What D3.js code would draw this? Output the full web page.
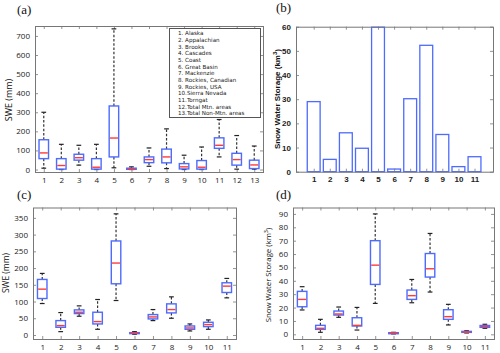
<!DOCTYPE html>
<html><head><meta charset="utf-8">
<script src="https://cdn.jsdelivr.net/npm/d3@7"></script>
<style>body{margin:0;background:#fff}svg{display:block}</style>
</head><body>
<svg id="c" width="500" height="353"></svg>
<script>
// ---------- DATA ----------
const regionsA = [1,2,3,4,5,6,7,8,9,10,11,12,13];
const regionsB = [1,2,3,4,5,6,7,8,9,10,11];
const legendNames = ["1. Alaska","2. Appalachian","3. Brooks","4. Cascades","5. Coast","6. Great Basin","7. Mackenzie","8. Rockies, Canadian","9. Rockies, USA","10.Sierra Nevada","11.Torngat","12.Total Mtn. areas","13.Total Non-Mtn. areas"];
// box stats: [low whisker, q1, median, q3, high whisker]
const sweA_low  = [7,0,23,0,9,0,17,5,0,0,66,2,2];
const sweA_q1   = [57,2,49,2,66,1,36,35,3,2,111,23,5];
const sweA_med  = [87,21,62,12,165,4,52,66,14,12,127,52,24];
const sweA_q3   = [156,57,80,57,333,7,66,107,31,47,166,85,49];
const sweA_high = [300,132,127,132,737,14,113,213,75,118,262,178,123];
const storageB = [29.0,5.1,16.1,9.7,59.8,1.1,30.2,52.3,15.4,2.1,6.2];
const sweC_low  = [94,10,56,17,103,2,43,50,12,17,111];
const sweC_q1   = [109,23,64,33,153,4,48,66,17,25,127];
const sweC_med  = [137,28,68,40,215,5,54,76,21,31,146];
const sweC_q3   = [166,43,75,68,281,7,61,93,27,38,156];
const sweC_high = [184,67,87,106,362,10,76,114,33,45,169];
const stoD_low  = [18.2,1.5,12.7,3.2,23.1,0.3,23.6,31.6,7.0,1.0,4.5];
const stoD_q1   = [20.6,3.7,14.4,6.2,37.3,0.5,26.1,42.8,11.2,1.5,5.2];
const stoD_med  = [26.1,4.5,15.2,6.7,51.7,0.8,28.9,49.0,13.2,1.7,6.0];
const stoD_q3   = [32.1,6.7,17.4,12.4,70.0,1.2,33.1,60.4,18.4,2.2,6.6];
const stoD_high = [35.6,11.2,20.4,20.1,90.0,1.5,41.0,75.4,22.4,2.7,7.5];
const ticksA = [0,100,200,300,400,500,600,700];
const ticksB = [0,10,20,30,40,50,60];
const ticksC = [0,50,100,150,200,250,300,350];
const ticksD = [0,10,20,30,40,50,60,70,80,90];

const svg = d3.select("#c");
const BLUE = "#4d6bff", RED = "#ff3a3a", FRAME = "#777";

function frame(g, x, y, xt, yt, opt) {
  const [x0,x1] = x.range(), [y0,y1] = y.range();
  const font = opt.font, fs = opt.fs, fw = opt.fw || "normal";
  const ax = g.append("g").attr("transform",`translate(${x0},0)`)
    .call(d3.axisLeft(y).tickValues(yt).tickSize(-3).tickPadding(opt.ypad||4));
  const ar = g.append("g").attr("transform",`translate(${x1},0)`)
    .call(d3.axisRight(y).tickValues(yt).tickSize(-3).tickFormat(""));
  const ab = g.append("g").attr("transform",`translate(0,${y0})`)
    .call(d3.axisBottom(x).tickValues(xt).tickSize(-3).tickPadding(opt.xpad||5));
  const at = g.append("g").attr("transform",`translate(0,${y1})`)
    .call(d3.axisTop(x).tickValues(xt).tickSize(-3).tickFormat(""));
  [ax,ar,ab,at].forEach(a=>{
    a.select(".domain").remove();
    a.selectAll("line").attr("stroke",FRAME).attr("stroke-width",0.8);
    a.selectAll("text").attr("font-family",font).attr("font-size",fs).attr("font-weight",fw).attr("fill","#222");
  });
  g.append("rect").attr("x",x0+0.5).attr("y",y1+0.5).attr("width",x1-x0).attr("height",y0-y1)
    .attr("fill","none").attr("stroke",FRAME).attr("stroke-width",1);
}

function boxes(g, x, y, cats, lo, q1, med, q3, hi, bw) {
  cats.forEach((c,i)=>{
    const cx = x(c);
    const wl = g.append("g");
    wl.append("line").attr("x1",cx).attr("x2",cx).attr("y1",y(q3[i])).attr("y2",y(hi[i]))
      .attr("stroke","#333").attr("stroke-width",1.2).attr("stroke-dasharray","2.5,1.8");
    wl.append("line").attr("x1",cx).attr("x2",cx).attr("y1",y(q1[i])).attr("y2",y(lo[i]))
      .attr("stroke","#333").attr("stroke-width",1.2).attr("stroke-dasharray","2.5,1.8");
    [hi[i],lo[i]].forEach(v=>{
      wl.append("line").attr("x1",cx-bw/4).attr("x2",cx+bw/4).attr("y1",y(v)).attr("y2",y(v))
        .attr("stroke","#222").attr("stroke-width",1.2);
    });
    g.append("rect").attr("x",cx-bw/2).attr("y",y(q3[i])).attr("width",bw)
      .attr("height",Math.max(1,y(q1[i])-y(q3[i])))
      .attr("fill","none").attr("stroke",BLUE).attr("stroke-width",1.4);
    g.append("line").attr("x1",cx-bw/2+0.7).attr("x2",cx+bw/2-0.7).attr("y1",y(med[i])).attr("y2",y(med[i]))
      .attr("stroke",RED).attr("stroke-width",1.4);
  });
}

function panelLabel(txt,x,y){
  svg.append("text").attr("x",x).attr("y",y).text(txt)
    .attr("font-family","Liberation Serif, serif").attr("font-size",13).attr("fill","#111");
}
function yLabel(txt,x,y,font,fs,fw){
  const t = svg.append("text").attr("transform",`translate(${x},${y}) rotate(-90)`)
    .attr("text-anchor","middle").attr("font-family",font).attr("font-size",fs).attr("font-weight",fw||"normal").attr("fill","#111");
  return t;
}

// ---------- Panel (a) ----------
{
  const g = svg.append("g");
  const x = d3.scaleLinear().domain([0.5,13.5]).range([35,263]);
  const y = d3.scaleLinear().domain([-13,752]).range([172,26]);
  frame(g,x,y,regionsA,ticksA,{font:"Open Sans, sans-serif",fs:8,ypad:5,xpad:5});
  boxes(g,x,y,regionsA,sweA_low,sweA_q1,sweA_med,sweA_q3,sweA_high,9.5);
  // legend
  const lg = g.append("g");
  lg.append("rect").attr("x",169.5).attr("y",28.5).attr("width",91).attr("height",89)
    .attr("fill","#fff").attr("stroke","#555").attr("stroke-width",1);
  legendNames.forEach((n,i)=>{
    lg.append("text").attr("x",178).attr("y",35.3+i*6.68).text(n)
      .attr("font-family","DejaVu Sans, sans-serif").attr("font-size",5.6).attr("fill","#222");
  });
  panelLabel("(a)",17,14);
  yLabel("",12,100,"Open Sans, sans-serif",9).text("SWE (mm)");
}

// ---------- Panel (b) ----------
{
  const g = svg.append("g");
  const x = d3.scaleLinear().domain([-0.1,12.15]).range([296,493]);
  const y = d3.scaleLinear().domain([0,60]).range([171.7,26.7]);
  const bw = (x(1)-x(0))*0.8;
  g.selectAll("rect.bar").data(storageB).join("rect").attr("class","bar")
    .attr("x",(d,i)=>x(regionsB[i])-bw/2).attr("y",d=>y(d))
    .attr("width",bw).attr("height",d=>y(0)-y(d))
    .attr("fill","none").attr("stroke",BLUE).attr("stroke-width",1.3);
  frame(g,x,y,regionsB,ticksB,{font:"Liberation Sans, Arial, sans-serif",fs:8,fw:"bold",ypad:5,xpad:5});
  panelLabel("(b)",276,12);
  const t = yLabel("",280,99,"Liberation Sans, Arial, sans-serif",8,"bold");
  t.append("tspan").text("Snow Water Storage (km");
  t.append("tspan").attr("dy",-3).attr("font-size",6).text("3");
  t.append("tspan").attr("dy",3).text(")");
}

// ---------- Panel (c) ----------
{
  const g = svg.append("g");
  const x = d3.scaleLinear().domain([0.5,11.5]).range([33,236]);
  const y = d3.scaleLinear().domain([-12,381]).range([339,207.5]);
  frame(g,x,y,regionsB,ticksC,{font:"Open Sans, sans-serif",fs:8,ypad:5,xpad:5});
  boxes(g,x,y,regionsB,sweC_low,sweC_q1,sweC_med,sweC_q3,sweC_high,9.5);
  panelLabel("(c)",17,199);
  yLabel("",9,273,"Open Sans, sans-serif",8.5).text("SWE (mm)");
}

// ---------- Panel (d) ----------
{
  const g = svg.append("g");
  const x = d3.scaleLinear().domain([0.5,11.5]).range([293,494]);
  const y = d3.scaleLinear().domain([-3.5,94.8]).range([339,207.5]);
  frame(g,x,y,regionsB,ticksD,{font:"Open Sans, sans-serif",fs:8,ypad:5,xpad:5});
  boxes(g,x,y,regionsB,stoD_low,stoD_q1,stoD_med,stoD_q3,stoD_high,9.5);
  panelLabel("(d)",276,199);
  const t = yLabel("",271,275,"Open Sans, sans-serif",7.8);
  t.append("tspan").text("Snow Water Storage (km");
  t.append("tspan").attr("dy",-3).attr("font-size",5.5).text("3");
  t.append("tspan").attr("dy",3).text(")");
}
</script>
</body></html>
